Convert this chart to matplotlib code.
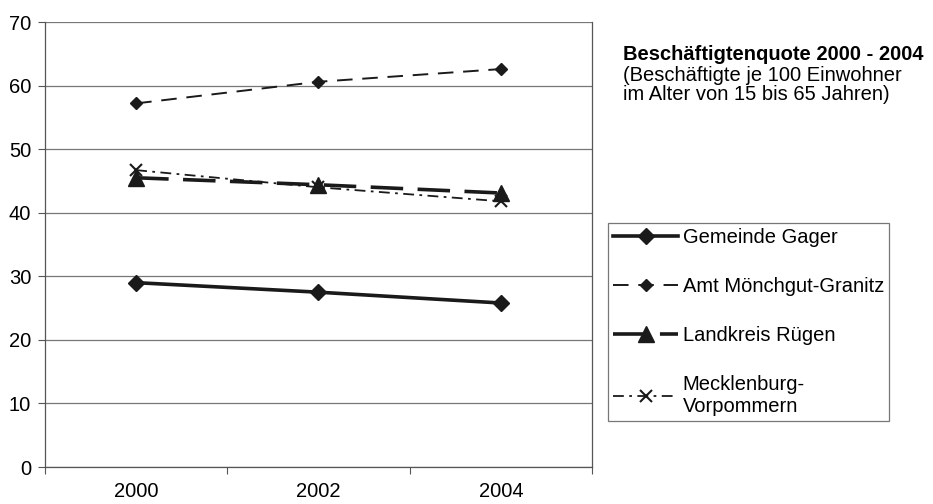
import numpy as np
import matplotlib
matplotlib.use("Agg")
import matplotlib.pyplot as plt

# Daten
jahre = ["2000", "2002", "2004"]
gager = [29.0, 27.5, 25.8]
moenchgut = [57.2, 60.6, 62.6]
ruegen = [45.5, 44.4, 43.1]
mv = [46.7, 44.0, 41.8]
y_ticks = [0, 10, 20, 30, 40, 50, 60, 70]

plt.rcParams["font.family"] = ["Liberation Sans", "DejaVu Sans"]

fig = plt.figure(figsize=(9.33, 5.04), dpi=100)
ax = fig.add_axes([0.0482, 0.0734, 0.5863, 0.8829])

x = np.arange(len(jahre))

l1, = ax.plot(x, gager, color="#1a1a1a", lw=2.6, marker="D", ms=8,
              label="Gemeinde Gager")
l2, = ax.plot(x, moenchgut, color="#1a1a1a", lw=1.4, ls=(0, (8, 5)),
              marker="D", ms=6, label="Amt Mönchgut-Granitz")
l3, = ax.plot(x, ruegen, color="#1a1a1a", lw=2.6, ls=(0, (9, 4)),
              marker="^", ms=11, label="Landkreis Rügen")
l4, = ax.plot(x, mv, color="#1a1a1a", lw=1.3, ls=(0, (6, 3, 1.5, 3)),
              marker="x", ms=8, mew=1.5, label="Mecklenburg-\nVorpommern")

ax.set_xlim(-0.5, len(jahre) - 0.5)
ax.set_ylim(0, 70)
ax.set_yticks(y_ticks)
ax.yaxis.grid(True, color="#777777", lw=0.9)
ax.set_axisbelow(True)

# Kategorieachse: Ticks zwischen den Jahren, Beschriftung mittig
ax.set_xticks(np.arange(len(jahre) + 1) - 0.5)
ax.set_xticklabels([])
ax.set_xticks(x, minor=True)
ax.set_xticklabels(jahre, minor=True)
ax.tick_params(axis="x", which="minor", length=0, pad=11, labelsize=14.5)
ax.tick_params(axis="x", which="major", length=5, color="#555555")
ax.tick_params(axis="y", length=5, color="#555555", labelsize=14.5, pad=5)

for s in ax.spines.values():
    s.set_color("#555555")
    s.set_linewidth(0.9)
ax.spines["top"].set_visible(False)

fig.text(0.668, 0.891, "Beschäftigtenquote 2000 - 2004", fontsize=14.5,
         fontweight="bold", va="center")
fig.text(0.668, 0.869, "(Beschäftigte je 100 Einwohner\nim Alter von 15 bis 65 Jahren)",
         fontsize=14.5, va="top", linespacing=1.02)

leg = fig.legend(handles=[l1, l2, l3, l4], loc="upper left",
                 bbox_to_anchor=(0.652, 0.558), fontsize=14.5, frameon=True,
                 fancybox=False, edgecolor="#555555", handlelength=3.2,
                 handletextpad=0.25, labelspacing=1.5, borderpad=0.25,
                 borderaxespad=0)
leg.get_frame().set_linewidth(0.9)

fig.savefig("out.png", dpi=100)
